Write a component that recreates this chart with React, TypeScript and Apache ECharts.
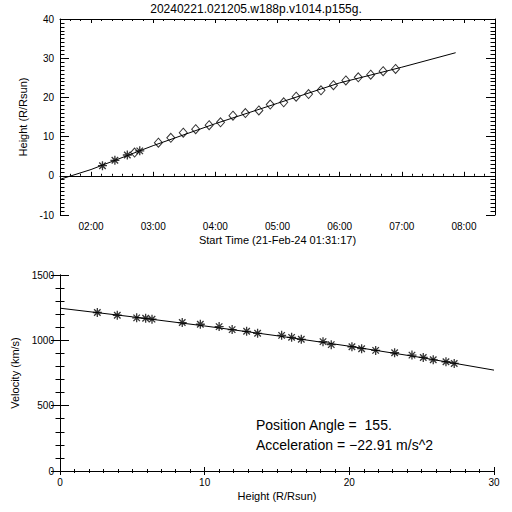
import React, { useEffect, useRef } from "react";
import * as echarts from "echarts";

const titleText = "20240221.021205.w188p.v1014.p155g.";
const startTimeLabel = "Start Time (21-Feb-24 01:31:17)";
const annotationLines = ["Position Angle =  155.", "Acceleration = \u221222.91 m/s^2"];

// Observations (time, height, detector, velocity)
const obsTimes = ["02:11", "02:23", "02:35", "02:42", "02:47", "03:05", "03:17", "03:29", "03:41", "03:54", "04:05", "04:17", "04:29", "04:42", "04:53", "05:06", "05:18", "05:30", "05:42", "05:54", "06:06", "06:18", "06:30", "06:42", "06:54"];
const obsHeights = [2.58, 3.96, 5.3, 5.92, 6.36, 8.45, 9.7, 11.0, 11.9, 12.9, 13.66, 15.32, 16.01, 16.68, 18.18, 18.75, 20.18, 20.85, 21.82, 23.13, 24.33, 25.11, 25.8, 26.68, 27.25];
const obsDetector = ["C2", "C2", "C2", "C3", "C2", "C3", "C3", "C3", "C3", "C3", "C3", "C3", "C3", "C3", "C3", "C3", "C3", "C3", "C3", "C3", "C3", "C3", "C3", "C3", "C3"];
const obsVelocities = [1213, 1192, 1172, 1169, 1162, 1136, 1123, 1105, 1082, 1069, 1054, 1038, 1023, 1008, 990, 967, 951, 936, 923, 905, 887, 869, 851, 836, 823];

// Fit curves
const heightFitTimes = ["01:30", "02:00", "03:00", "04:00", "05:00", "06:00", "07:00", "07:52"];
const heightFitValues = [-0.9, 1.6, 7.7, 13.3, 18.5, 23.7, 27.7, 31.4];
const velFitHeights = [0, 5, 10, 15, 20, 25, 30];
const velFitValues = [1246, 1180, 1110, 1035, 955, 868, 772];

// Axis ticks
const timeTickLabels = ["02:00", "03:00", "04:00", "05:00", "06:00", "07:00", "08:00"];
const timeAxisStart = "01:30";
const timeAxisEnd = "08:30";
const timeMinorStep = 10;

const toMin = (s: string) => {
  const [h, m] = s.split(":").map(Number);
  return h * 60 + m;
};
const fmtMin = (v: number) => {
  const h = Math.floor(v / 60);
  const m = Math.round(v - h * 60);
  return String(h).padStart(2, "0") + ":" + String(m).padStart(2, "0");
};

const FONT = "'Liberation Sans', Arial, sans-serif";
const BLACK = "#000";
const ASTERISK = "path://M5 0 L5 10 M0 5 L10 5 M1.4 1.4 L8.6 8.6 M1.4 8.6 L8.6 1.4";

export default function App() {
  const ref = useRef<HTMLDivElement>(null);
  useEffect(() => {
    if (!ref.current) return;
    const chart = echarts.init(ref.current, undefined, { renderer: "svg" });
    const tMin = toMin(timeAxisStart);
    const tMax = toMin(timeAxisEnd);
    const majorTimes = timeTickLabels.map(toMin);
    const minorTimes: number[] = [];
    for (let v = tMin; v <= tMax; v += timeMinorStep) minorTimes.push(v);

    const axisLine = { show: true, lineStyle: { color: BLACK, width: 1 } };
    const hiddenLabel = { show: false };

    const c2 = obsTimes.map((t, i) => [toMin(t), obsHeights[i], obsDetector[i]]).filter((d) => d[2] === "C2").map((d) => [d[0], d[1]]);
    const c3 = obsTimes.map((t, i) => [toMin(t), obsHeights[i], obsDetector[i]]).filter((d) => d[2] === "C3").map((d) => [d[0], d[1]]);

    const timeAxis = (pos: "top" | "bottom", values: number[], len: number, withLabel: boolean, showLine: boolean) => ({
      type: "value",
      gridIndex: 0,
      position: pos,
      min: tMin,
      max: tMax,
      axisLine: { ...axisLine, show: showLine },
      axisTick: { show: true, inside: true, length: len, customValues: values, lineStyle: { color: BLACK } },
      axisLabel: withLabel
        ? { show: true, customValues: majorTimes, formatter: (v: number) => fmtMin(v), color: BLACK, fontSize: 10, fontFamily: FONT, margin: 6 }
        : hiddenLabel,
      splitLine: { show: false },
      ...(withLabel
        ? { name: startTimeLabel, nameLocation: "middle", nameGap: 19, nameTextStyle: { color: BLACK, fontSize: 11, fontFamily: FONT } }
        : {}),
    });

    const valAxis = (grid: number, pos: string, min: number, max: number, interval: number, minorSplit: number, len: number, minorLen: number, withLabel: boolean, name?: string, nameGap?: number) => ({
      type: "value",
      gridIndex: grid,
      position: pos,
      min,
      max,
      interval,
      axisLine,
      axisTick: { show: true, inside: true, length: len, lineStyle: { color: BLACK } },
      minorTick: { show: true, splitNumber: minorSplit, length: minorLen, lineStyle: { color: BLACK } },
      axisLabel: withLabel
        ? { show: true, color: BLACK, fontSize: 10, fontFamily: FONT, margin: 6, formatter: (v: number) => String(v) }
        : hiddenLabel,
      splitLine: { show: false },
      minorSplitLine: { show: false },
      ...(name
        ? { name, nameLocation: "middle", nameGap, nameTextStyle: { color: BLACK, fontSize: 11, fontFamily: FONT } }
        : {}),
    });

    chart.setOption({
      animation: false,
      backgroundColor: "#fff",
      textStyle: { fontFamily: FONT },
      grid: [
        { left: 60, top: 19, width: 435, height: 196 },
        { left: 60, top: 275, width: 434, height: 196 },
      ],
      xAxis: [
        timeAxis("bottom", majorTimes, 4, true, true),
        timeAxis("bottom", minorTimes, 2, false, false),
        timeAxis("top", majorTimes, 4, false, true),
        timeAxis("top", minorTimes, 2, false, false),
        valAxis(1, "bottom", 0, 30, 10, 10, 4, 2, true, "Height (R/Rsun)", 19),
        valAxis(1, "top", 0, 30, 10, 10, 4, 2, false),
      ],
      yAxis: [
        valAxis(0, "left", -10, 40, 10, 10, 9, 4.5, true, "Height (R/Rsun)", 27),
        valAxis(0, "right", -10, 40, 10, 10, 9, 4.5, false),
        valAxis(1, "left", 0, 1500, 500, 5, 9, 4.5, true, "Velocity (km/s)", 27),
        valAxis(1, "right", 0, 1500, 500, 5, 9, 4.5, false),
      ],
      series: [
        {
          type: "line",
          xAxisIndex: 0,
          yAxisIndex: 0,
          data: heightFitTimes.map((t, i) => [toMin(t), heightFitValues[i]]),
          symbol: "none",
          lineStyle: { color: BLACK, width: 1 },
          silent: true,
        },
        {
          type: "scatter",
          xAxisIndex: 0,
          yAxisIndex: 0,
          data: c3,
          symbol: "diamond",
          symbolSize: [8, 9],
          itemStyle: { color: "rgba(0,0,0,0)", borderColor: BLACK, borderWidth: 1 },
        },
        {
          type: "scatter",
          xAxisIndex: 0,
          yAxisIndex: 0,
          data: c2,
          symbol: ASTERISK,
          symbolSize: 9,
          itemStyle: { color: "rgba(0,0,0,0)", borderColor: BLACK, borderWidth: 1.3 },
        },
        {
          type: "line",
          xAxisIndex: 4,
          yAxisIndex: 2,
          data: velFitHeights.map((h, i) => [h, velFitValues[i]]),
          symbol: "none",
          lineStyle: { color: BLACK, width: 1 },
          silent: true,
        },
        {
          type: "scatter",
          xAxisIndex: 4,
          yAxisIndex: 2,
          data: obsHeights.map((h, i) => [h, obsVelocities[i]]),
          symbol: ASTERISK,
          symbolSize: 9,
          itemStyle: { color: "rgba(0,0,0,0)", borderColor: BLACK, borderWidth: 1.3 },
        },
      ],
      graphic: [
        {
          type: "text",
          x: 256,
          y: 9,
          style: { text: titleText, fill: BLACK, fontSize: 12, fontFamily: FONT, textAlign: "center", textVerticalAlign: "middle" },
        },
        {
          type: "text",
          x: 256,
          y: 425,
          style: { text: annotationLines[0], fill: BLACK, fontSize: 14, fontFamily: FONT, textAlign: "left", textVerticalAlign: "middle" },
        },
        {
          type: "text",
          x: 256,
          y: 445,
          style: { text: annotationLines[1], fill: BLACK, fontSize: 14, fontFamily: FONT, textAlign: "left", textVerticalAlign: "middle" },
        },
      ],
    });
    return () => chart.dispose();
  }, []);
  return <div ref={ref} style={{ position: "fixed", left: 0, top: 0, width: 512, height: 512, background: "#fff" }} />;
}
